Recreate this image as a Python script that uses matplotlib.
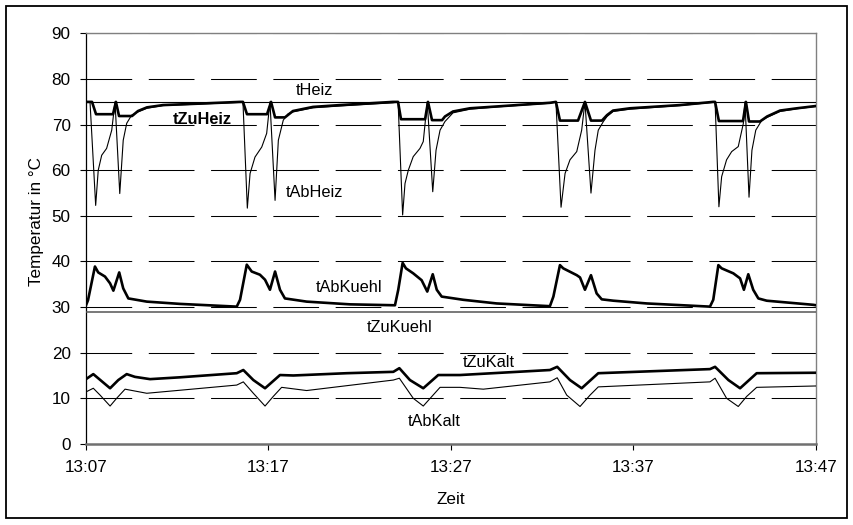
import matplotlib
matplotlib.use("Agg")
import matplotlib.pyplot as plt
from matplotlib.patches import Rectangle

plt.rcParams['font.family'] = ['Liberation Sans', 'DejaVu Sans']
plt.rcParams['lines.scale_dashes'] = False

# ---------------- data (minutes after 13:07) ----------------
tick_minutes = [0, 10, 20, 30, 40]
tick_labels = ["13:07", "13:17", "13:27", "13:37", "13:47"]
y_ticks = [0, 10, 20, 30, 40, 50, 60, 70, 80, 90]

tHeiz_t = [0, 40]
tHeiz_v = [75, 75]

tZuKuehl_t = [0, 40]
tZuKuehl_v = [29, 29]

tZuHeiz_t = [0.00, 0.33, 0.55, 1.48, 1.64, 1.81, 2.52, 2.85, 3.34, 4.22, 6.08, 8.44, 8.60,
             8.82, 9.92, 10.14, 10.36, 10.90, 11.34, 12.44, 13.92, 16.82, 17.10,
             17.26, 18.58, 18.74, 18.96, 19.51, 19.67, 20.11, 21.04, 22.52, 25.42, 25.75,
             25.97, 26.96, 27.34, 27.67, 28.27, 28.55, 28.88, 29.81, 32.55, 34.36, 34.47,
             34.68, 36.00, 36.16, 36.33, 36.93, 37.32, 38.03, 38.96, 40.00]
tZuHeiz_v = [75.0, 75.0, 72.3, 72.3, 75.0, 71.9, 71.9, 73.0, 73.8, 74.3, 74.6, 75.0, 75.0,
             72.3, 72.3, 75.0, 71.6, 71.6, 73.0, 73.9, 74.3, 75.0, 75.0,
             71.2, 71.2, 75.0, 71.0, 71.0, 71.8, 72.9, 73.6, 74.0, 74.8, 75.0,
             70.9, 70.9, 75.0, 70.9, 70.9, 72.1, 73.1, 73.6, 74.3, 75.0, 75.0,
             70.8, 70.8, 75.0, 70.7, 70.7, 71.8, 73.1, 73.6, 74.1]

tAbHeiz_t = [0.00, 0.22, 0.53, 0.67, 0.86, 1.13, 1.41, 1.59, 1.85, 2.04, 2.23, 2.50, 2.85,
             3.34, 4.22, 6.08, 8.44, 8.60, 8.84, 8.99, 9.26, 9.63, 9.90, 10.08, 10.36,
             10.54, 10.81, 11.08, 11.34, 12.44, 13.92, 16.82, 17.10, 17.35, 17.48, 17.66,
             17.93, 18.30, 18.48, 18.70, 19.00, 19.18, 19.40, 19.67, 20.11, 21.04, 22.52,
             25.42, 25.75, 26.03, 26.25, 26.52, 26.89, 27.16, 27.34, 27.67, 27.89, 28.07,
             28.35, 28.55, 28.88, 29.81, 32.55, 34.36, 34.47, 34.68, 34.83, 35.10, 35.38,
             35.74, 36.02, 36.11, 36.33, 36.49, 36.70, 37.02, 37.32, 38.03, 38.96, 40.00]
tAbHeiz_v = [75.0, 75.0, 52.3, 60.0, 63.3, 64.8, 68.8, 75.0, 54.9, 66.6, 70.3, 72.1, 72.8,
             73.6, 74.2, 74.5, 74.9, 75.0, 51.7, 59.3, 62.9, 65.1, 68.1, 75.0, 53.4,
             66.6, 71.0, 72.4, 72.8, 73.7, 74.1, 74.8, 75.0, 50.2, 57.1, 60.0,
             63.0, 64.8, 66.3, 75.0, 55.3, 64.4, 68.8, 70.7, 72.6, 73.4, 73.9,
             74.7, 75.0, 51.9, 59.3, 62.3, 64.1, 68.8, 75.0, 55.0, 64.4, 68.8,
             70.7, 71.8, 72.9, 73.4, 74.2, 74.9, 75.0, 52.0, 58.6, 62.3, 64.1,
             65.2, 70.3, 75.0, 54.1, 64.4, 68.8, 70.9, 71.6, 72.9, 73.5, 74.0]

tAbKuehl_t = [0.00, 0.11, 0.49, 0.67, 1.04, 1.32, 1.50, 1.82, 2.04, 2.32, 3.33, 5.15, 8.26,
              8.44, 8.81, 9.08, 9.53, 9.81, 10.08, 10.36, 10.63, 10.90, 12.09, 14.47, 16.93,
              17.11, 17.35, 17.53, 17.93, 18.39, 18.70, 19.00, 19.22, 19.49, 20.67, 22.50,
              25.42, 25.61, 25.97, 26.15, 26.89, 27.07, 27.34, 27.67, 27.98, 28.26, 28.90,
              30.72, 34.19, 34.37, 34.65, 34.83, 35.47, 35.84, 36.05, 36.29, 36.56, 36.84,
              37.30, 39.85, 40.00]
tAbKuehl_v = [30.4, 31.5, 38.9, 37.6, 36.7, 35.2, 33.6, 37.6, 34.1, 31.9, 31.2, 30.7, 30.1,
              31.6, 39.3, 37.8, 37.1, 36.0, 33.8, 37.8, 33.8, 31.9, 31.2, 30.6, 30.4,
              33.8, 39.7, 38.5, 37.4, 35.9, 33.4, 37.2, 33.8, 32.3, 31.6, 30.8,
              30.2, 32.3, 39.2, 38.5, 37.0, 36.5, 33.8, 37.0, 33.0, 31.7, 31.4,
              30.8, 30.1, 31.6, 39.2, 38.5, 37.4, 36.3, 33.8, 37.2, 33.8, 31.9,
              31.4, 30.5, 30.4]

tZuKalt_t = [0.00, 0.40, 1.32, 1.77, 2.23, 2.68, 3.51, 5.15, 8.26, 8.62, 9.17, 9.81, 10.63,
             11.36, 14.28, 16.84, 17.17, 17.75, 18.48, 19.30, 20.49, 25.42, 25.82, 26.52,
             27.16, 28.07, 34.19, 34.47, 35.20, 35.84, 36.75, 40.00]
tZuKalt_v = [14.2, 15.3, 12.2, 14.0, 15.3, 14.7, 14.2, 14.6, 15.5, 16.2, 14.0, 12.2, 15.1,
             15.0, 15.5, 15.8, 16.6, 14.0, 12.2, 15.1, 15.1, 16.2, 16.9, 14.0,
             12.2, 15.5, 16.4, 16.9, 14.0, 12.2, 15.5, 15.6]

tAbKalt_t = [0.00, 0.40, 0.77, 1.32, 1.68, 2.14, 3.33, 8.26, 8.62, 9.17, 9.81, 10.26, 10.72,
             12.09, 16.84, 17.17, 17.93, 18.48, 19.40, 20.49, 21.77, 25.42, 25.82, 26.34,
             27.07, 27.62, 28.07, 34.19, 34.47, 35.10, 35.74, 36.20, 36.75, 40.00]
tAbKalt_v = [11.4, 12.2, 10.7, 8.3, 10.0, 12.0, 11.1, 12.9, 13.6, 11.1, 8.3, 10.4, 12.4,
             11.7, 14.0, 14.4, 10.0, 8.3, 12.4, 12.4, 12.0, 13.6, 14.5, 10.7,
             8.2, 10.7, 12.5, 13.6, 14.4, 10.0, 8.2, 10.4, 12.4, 12.7]

# ---------------- figure ----------------
fig = plt.figure(figsize=(8.54, 5.25), dpi=100)
ax = fig.add_axes([0.1007, 0.1545, 0.8548, 0.7817])

# outer frame
fig.patches.append(Rectangle((6 / 854, 7 / 525), 841 / 854, 512 / 525,
                             transform=fig.transFigure, fill=False,
                             edgecolor='black', linewidth=1.3))

# dashed gridlines
for yv in y_ticks[1:]:
    ax.axhline(yv, color='black', linewidth=0.75, linestyle=(0, (32.9, 11.95)), zorder=1)

thin = 0.8
thick = 1.9
ax.plot(tHeiz_t, tHeiz_v, color='black', linewidth=thin, zorder=3)
ax.plot(tZuKuehl_t, tZuKuehl_v, color='#555555', linewidth=1.1, zorder=3)
ax.plot(tAbHeiz_t, tAbHeiz_v, color='black', linewidth=thin, zorder=3)
ax.plot(tZuHeiz_t, tZuHeiz_v, color='black', linewidth=thick, zorder=4)
ax.plot(tAbKuehl_t, tAbKuehl_v, color='black', linewidth=thick, zorder=4)
ax.plot(tAbKalt_t, tAbKalt_v, color='black', linewidth=thin, zorder=3)
ax.plot(tZuKalt_t, tZuKalt_v, color='black', linewidth=thick, zorder=4)

# series labels
lab_fs = 11.8
ax.text(12.5, 77.5, "tHeiz", fontsize=lab_fs, ha='center', va='center')
ax.text(6.4, 71.2, "tZuHeiz", fontsize=lab_fs, fontweight='bold', ha='center', va='center')
ax.text(12.5, 55.1, "tAbHeiz", fontsize=lab_fs, ha='center', va='center')
ax.text(14.4, 34.2, "tAbKuehl", fontsize=lab_fs, ha='center', va='center')
ax.text(17.2, 25.5, "tZuKuehl", fontsize=lab_fs, ha='center', va='center')
ax.text(22.05, 17.85, "tZuKalt", fontsize=lab_fs, ha='center', va='center')
ax.text(19.1, 5.0, "tAbKalt", fontsize=lab_fs, ha='center', va='center')

ax.set_xlim(0, 40)
ax.set_ylim(0, 90)
ax.set_xticks(tick_minutes)
ax.set_xticklabels(tick_labels)
ax.set_yticks(y_ticks)

for s in ['top', 'right']:
    ax.spines[s].set_color('#808080')
    ax.spines[s].set_linewidth(1.0)
ax.spines['bottom'].set_color('#707070')
ax.spines['bottom'].set_linewidth(1.8)
ax.spines['left'].set_color('black')
ax.spines['left'].set_linewidth(0.9)

ax.tick_params(axis='y', direction='out', length=4.5, width=0.8, pad=6.5,
               labelsize=12.3, colors='black')
ax.tick_params(axis='x', direction='out', length=4.5, width=0.8, pad=7,
               labelsize=12.3, colors='black')

ax.set_ylabel("Temperatur in °C", fontsize=12.3)
ax.yaxis.set_label_coords(-0.058, 0.543)
ax.set_xlabel("Zeit", fontsize=12.3)
ax.xaxis.set_label_coords(0.5, -0.118)

fig.savefig("out.png", dpi=100)
